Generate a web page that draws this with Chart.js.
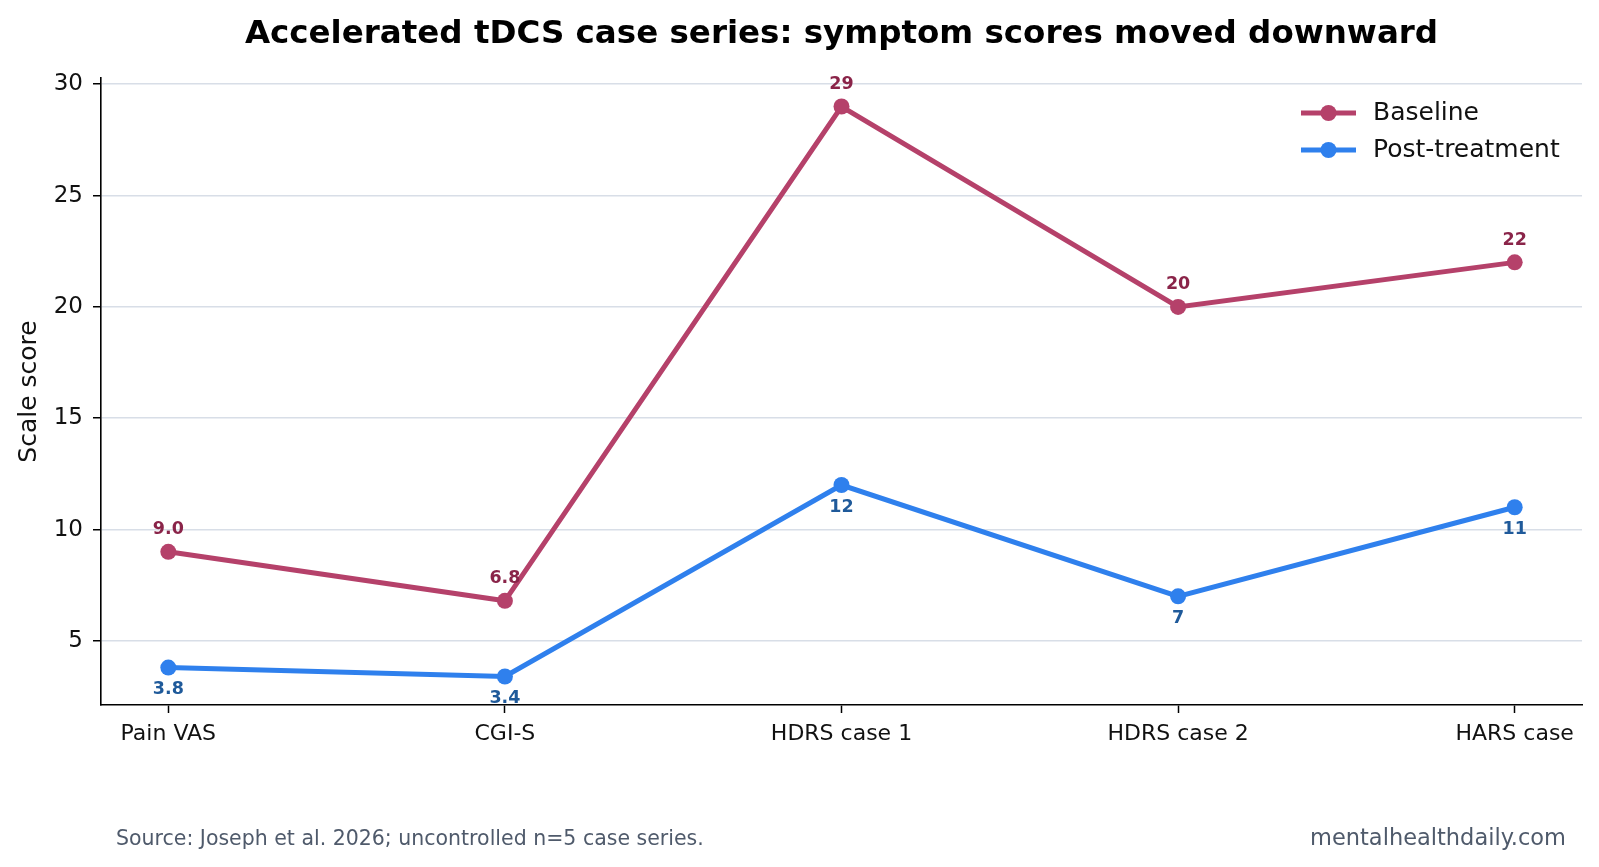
<!DOCTYPE html>
<html>
<head>
<meta charset="utf-8">
<script src="https://cdn.jsdelivr.net/npm/chart.js@4.4.1/dist/chart.umd.min.js"></script>
<style>
  html, body { margin: 0; padding: 0; background: #fff; }
  #wrap { width: 1599px; height: 867px; position: relative; }
</style>
</head>
<body>
<div id="wrap"><canvas id="lineChart" width="1599" height="867"></canvas></div>
<script>
// Datos
const categories = ['Pain VAS', 'CGI-S', 'HDRS case 1', 'HDRS case 2', 'HARS case'];
const baseline = [9.0, 6.8, 29, 20, 22];
const postTreatment = [3.8, 3.4, 12, 7, 11];
const baselineLabels = ['9.0', '6.8', '29', '20', '22'];
const postLabels = ['3.8', '3.4', '12', '7', '11'];
const yTicks = [5, 10, 15, 20, 25, 30];

const FONT = '"DejaVu Sans", "Liberation Sans", sans-serif';
const RED = '#b5416a', RED_TXT = '#8a2449';
const BLUE = '#2f80ed', BLUE_TXT = '#1f5a9a';

function toPoints(values) {
    return values.map((v, i) => ({ x: i, y: v }));
}

// Títulos, etiquetas de valores, leyenda y pie
const decorPlugin = {
    id: 'decor',
    afterDatasetsDraw(chart) {
        const c = chart.ctx;
        c.save();

        // etiquetas de valores
        const labelSets = [baselineLabels, postLabels];
        const colors = [RED_TXT, BLUE_TXT];
        const offsets = [-22, 22];
        c.font = 'bold 17.5px ' + FONT;
        c.textAlign = 'center';
        c.textBaseline = 'middle';
        chart.data.datasets.forEach((ds, di) => {
            const meta = chart.getDatasetMeta(di);
            meta.data.forEach((pt, i) => {
                c.fillStyle = colors[di];
                c.fillText(labelSets[di][i], pt.x, pt.y + offsets[di]);
            });
        });

        // leyenda
        const lx = 1301, lw = 55, rows = [113, 150];
        chart.data.datasets.forEach((ds, di) => {
            const y = rows[di];
            c.strokeStyle = ds.borderColor;
            c.lineWidth = 5;
            c.beginPath();
            c.moveTo(lx, y);
            c.lineTo(lx + lw, y);
            c.stroke();
            c.fillStyle = ds.borderColor;
            c.beginPath();
            c.arc(lx + lw / 2, y, 8, 0, Math.PI * 2);
            c.fill();
            c.fillStyle = '#111';
            c.font = '25px ' + FONT;
            c.textAlign = 'left';
            c.fillText(ds.label, 1373, y);
        });
        c.restore();
    },
    afterDraw(chart) {
        const c = chart.ctx;
        const area = chart.chartArea;
        c.save();
        c.fillStyle = '#000';
        c.textBaseline = 'middle';
        c.textAlign = 'center';
        c.font = 'bold 32.5px ' + FONT;
        c.fillText('Accelerated tDCS case series: symptom scores moved downward', (area.left + area.right) / 2, 35);

        // título del eje y
        c.save();
        c.translate(29, (area.top + area.bottom) / 2);
        c.rotate(-Math.PI / 2);
        c.font = '25px ' + FONT;
        c.fillStyle = '#111';
        c.fillText('Scale score', 0, 0);
        c.restore();

        // pie
        c.font = '20.5px ' + FONT;
        c.fillStyle = '#4f5a6b';
        c.textAlign = 'left';
        c.fillText('Source: Joseph et al. 2026; uncontrolled n=5 case series.', 116, 840);
        c.font = '22.5px ' + FONT;
        c.textAlign = 'right';
        c.fillText('mentalhealthdaily.com', 1566, 839);
        c.restore();
    }
};

const ctx = document.getElementById('lineChart').getContext('2d');
const lineChart = new Chart(ctx, {
    type: 'line',
    data: {
        datasets: [
            {
                label: 'Baseline',
                data: toPoints(baseline),
                borderColor: RED,
                backgroundColor: RED,
                borderWidth: 5,
                pointRadius: 8,
                pointHoverRadius: 8,
                pointBorderWidth: 0,
                fill: false,
                tension: 0
            },
            {
                label: 'Post-treatment',
                data: toPoints(postTreatment),
                borderColor: BLUE,
                backgroundColor: BLUE,
                borderWidth: 5,
                pointRadius: 8,
                pointHoverRadius: 8,
                pointBorderWidth: 0,
                fill: false,
                tension: 0
            }
        ]
    },
    options: {
        responsive: false,
        animation: false,
        layout: { padding: { top: 78, right: 17, left: 0, bottom: 0 } },
        plugins: {
            legend: { display: false },
            title: { display: false },
            tooltip: { enabled: false }
        },
        scales: {
            x: {
                type: 'linear',
                min: -0.2,
                max: 4.2,
                afterFit(scale) { scale.height = 867 - 705; },
                afterBuildTicks(scale) {
                    scale.ticks = categories.map((_, i) => ({ value: i }));
                },
                ticks: {
                    callback: (v) => categories[v],
                    color: '#111',
                    font: { family: FONT, size: 22 },
                    padding: 8,
                    maxRotation: 0,
                    autoSkip: false
                },
                grid: {
                    drawOnChartArea: false,
                    drawTicks: true,
                    tickLength: 8,
                    tickColor: '#000',
                    tickWidth: 1.5
                },
                border: { display: true, color: '#000', width: 1.6 }
            },
            y: {
                type: 'linear',
                min: 2.12,
                max: 30.28,
                afterFit(scale) { scale.width = 101; },
                afterBuildTicks(scale) {
                    scale.ticks = yTicks.map(v => ({ value: v }));
                },
                ticks: {
                    color: '#111',
                    font: { family: FONT, size: 23 },
                    padding: 10
                },
                grid: {
                    color: '#d8dee7',
                    lineWidth: 1.5,
                    drawTicks: true,
                    tickLength: 8,
                    tickColor: '#000',
                    tickWidth: 1.5
                },
                border: { display: true, color: '#000', width: 1.6 }
            }
        }
    },
    plugins: [decorPlugin]
});
</script>
</body>
</html>
